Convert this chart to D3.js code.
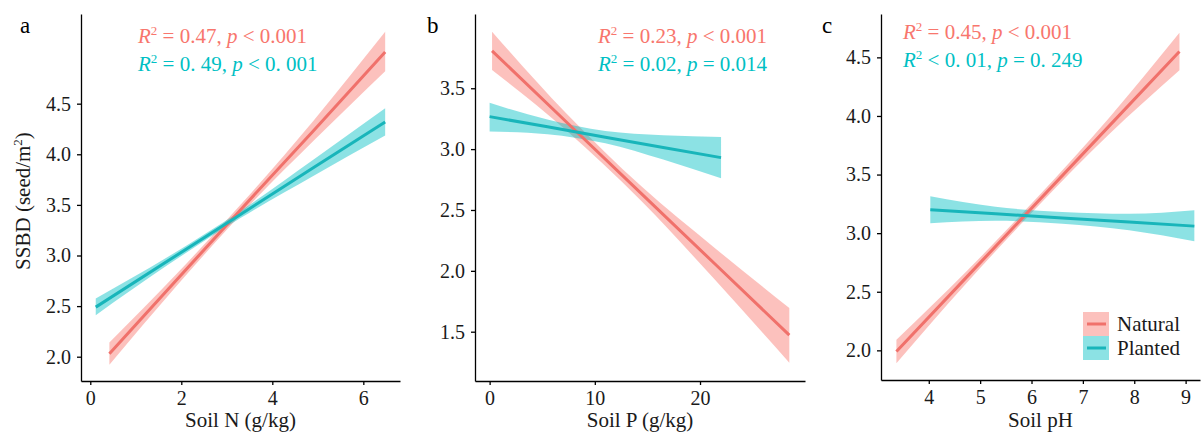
<!doctype html>
<html lang="en">
<head>
<meta charset="utf-8">
<title>SSBD vs soil</title>
<script src="https://d3js.org/d3.v7.min.js"></script>
<style>
    body { margin: 0; background-color: white; }
    svg text { font-family: "Liberation Serif", "Times New Roman", serif; }
    .axis path, .axis line { stroke: black; stroke-width: 1.3; }
    .axis text { font-size: 20px; fill: #1a1a1a; }
</style>
</head>
<body>
<div id="graph"></div>
<script>
// panel a: Soil N (g/kg)
var aNatX   = [0.42, 1.9, 3.4, 4.9, 6.48];
var aNatFit = [2.03, 2.76, 3.50, 4.23, 5.01];
var aNatLo  = [1.92, 2.70, 3.45, 4.13, 4.82];
var aNatHi  = [2.14, 2.82, 3.55, 4.33, 5.21];
var aPlaX   = [0.12, 1.7, 3.3, 4.9, 6.48];
var aPlaFit = [2.49, 2.945, 3.405, 3.866, 4.32];
var aPlaLo  = [2.41, 2.905, 3.37, 3.786, 4.185];
var aPlaHi  = [2.575, 2.985, 3.44, 3.946, 4.455];

// panel b: Soil P (g/kg)
var bNatX   = [0.23, 7.3, 14.4, 21.4, 28.49];
var bNatFit = [3.807, 3.223, 2.636, 2.058, 1.472];
var bNatLo  = [3.65, 3.153, 2.576, 1.928, 1.245];
var bNatHi  = [3.965, 3.293, 2.696, 2.188, 1.695];
var bPlaX   = [0, 5.5, 11, 16.5, 22];
var bPlaFit = [3.267, 3.183, 3.098, 3.014, 2.93];
var bPlaLo  = [3.145, 3.123, 3.048, 2.914, 2.76];
var bPlaHi  = [3.38, 3.243, 3.148, 3.114, 3.10];

// panel c: Soil pH
var cNatX   = [3.37, 4.75, 6.12, 7.5, 8.88];
var cNatFit = [1.99, 2.631, 3.268, 3.909, 4.55];
var cNatLo  = [1.89, 2.581, 3.228, 3.839, 4.39];
var cNatHi  = [2.09, 2.681, 3.308, 3.979, 4.71];
var cPlaX   = [4.03, 5.3, 6.6, 7.9, 9.17];
var cPlaFit = [3.20, 3.165, 3.13, 3.095, 3.06];
var cPlaLo  = [3.085, 3.105, 3.08, 3.025, 2.93];
var cPlaHi  = [3.315, 3.225, 3.18, 3.165, 3.195];

// tick values
var aXTicks = [0, 2, 4, 6];
var aYTicks = [2.0, 2.5, 3.0, 3.5, 4.0, 4.5];
var bXTicks = [0, 10, 20];
var bYTicks = [1.5, 2.0, 2.5, 3.0, 3.5];
var cXTicks = [4, 5, 6, 7, 8, 9];
var cYTicks = [2.0, 2.5, 3.0, 3.5, 4.0, 4.5];

// labels
var panelTags = ["a", "b", "c"];
var xTitles = ["Soil N (g/kg)", "Soil P (g/kg)", "Soil pH"];
var groups = ["Natural", "Planted"];
// text after "R2" and after "p" for Natural / Planted
var aStats = [[" = 0.47, ", " < 0.001"], [" = 0. 49, ", " < 0. 001"]];
var bStats = [[" = 0.23, ", " < 0.001"], [" = 0.02, ", " = 0.014"]];
var cStats = [[" = 0.45, ", " < 0.001"], [" < 0. 01, ", " = 0. 249"]];

var lineColors = ["#F0716B", "#18B5BA"];
var fillColors = ["#F8766D", "#00BFC4"];

function series(xs, fit, lo, hi) {
    return xs.map(function(x, i) { return { x: x, fit: fit[i], lo: lo[i], hi: hi[i] }; });
}

var panels = [
    { left: 81, right: 400, top: 14, bottom: 381, xDom: [-0.204, 6.806], yDom: [1.76, 5.386],
      xTicks: aXTicks, yTicks: aYTicks, stats: aStats, statX: 138, statY: 43,
      data: [series(aNatX, aNatFit, aNatLo, aNatHi), series(aPlaX, aPlaFit, aPlaLo, aPlaHi)] },
    { left: 475, right: 805, top: 14, bottom: 381, xDom: [-1.39, 29.98], yDom: [1.095, 4.11],
      xTicks: bXTicks, yTicks: bYTicks, stats: bStats, statX: 598, statY: 43,
      data: [series(bNatX, bNatFit, bNatLo, bNatHi), series(bPlaX, bPlaFit, bPlaLo, bPlaHi)] },
    { left: 881, right: 1200, top: 14, bottom: 380, xDom: [3.07, 9.28], yDom: [1.747, 4.87],
      xTicks: cXTicks, yTicks: cYTicks, stats: cStats, statX: 903, statY: 39,
      data: [series(cNatX, cNatFit, cNatLo, cNatHi), series(cPlaX, cPlaFit, cPlaLo, cPlaHi)] }
];

var svg = d3.select("#graph").append("svg")
    .attr("width", 1201)
    .attr("height", 439);

var tagX = [20, 427, 822];

panels.forEach(function(p, k) {
    var x = d3.scaleLinear().domain(p.xDom).range([p.left, p.right]);
    var y = d3.scaleLinear().domain(p.yDom).range([p.bottom, p.top]);
    var g = svg.append("g");

    p.data.forEach(function(d, s) {
        var area = d3.area()
            .x(function(v) { return x(v.x); })
            .y0(function(v) { return y(v.lo); })
            .y1(function(v) { return y(v.hi); })
            .curve(d3.curveMonotoneX);
        g.append("path")
            .attr("d", area(d))
            .attr("fill", fillColors[s])
            .attr("fill-opacity", 0.45);
    });
    p.data.forEach(function(d, s) {
        var line = d3.line()
            .x(function(v) { return x(v.x); })
            .y(function(v) { return y(v.fit); });
        g.append("path")
            .attr("d", line(d))
            .attr("fill", "none")
            .attr("stroke", lineColors[s])
            .attr("stroke-width", 3);
    });

    g.append("g")
        .attr("class", "axis")
        .attr("transform", "translate(0," + p.bottom + ")")
        .call(d3.axisBottom(x).tickValues(p.xTicks).tickFormat(d3.format("d")).tickSize(4).tickSizeOuter(0).tickPadding(6));
    g.append("g")
        .attr("class", "axis")
        .attr("transform", "translate(" + p.left + ",0)")
        .call(d3.axisLeft(y).tickValues(p.yTicks).tickFormat(d3.format(".1f")).tickSize(4).tickSizeOuter(0).tickPadding(6));

    g.append("text")
        .attr("x", (p.left + p.right) / 2)
        .attr("y", 427)
        .attr("text-anchor", "middle")
        .attr("font-size", 21)
        .attr("fill", "#1a1a1a")
        .text(xTitles[k]);

    g.append("text")
        .attr("x", tagX[k])
        .attr("y", 33)
        .attr("font-size", 23)
        .attr("fill", "black")
        .text(panelTags[k]);

    p.stats.forEach(function(st, s) {
        var t = g.append("text")
            .attr("x", p.statX)
            .attr("y", p.statY + s * 28)
            .attr("font-size", 21)
            .attr("fill", fillColors[s]);
        t.append("tspan").attr("font-style", "italic").text("R");
        t.append("tspan").attr("font-size", 13).attr("dy", -8).text("2");
        t.append("tspan").attr("dy", 8).text(st[0]);
        t.append("tspan").attr("font-style", "italic").text("p");
        t.append("tspan").text(st[1]);
    });
});

// y axis title
var yTitle = svg.append("text")
    .attr("transform", "translate(30,201) rotate(-90)")
    .attr("text-anchor", "middle")
    .attr("font-size", 21)
    .attr("fill", "#1a1a1a");
yTitle.append("tspan").text("SSBD (seed/m");
yTitle.append("tspan").attr("font-size", 13).attr("dy", -8).text("2");
yTitle.append("tspan").attr("dy", 8).text(")");

// legend
var legend = svg.append("g").attr("transform", "translate(1083,312)");
groups.forEach(function(name, s) {
    var row = legend.append("g").attr("transform", "translate(0," + (s * 24) + ")");
    row.append("rect")
        .attr("width", 26)
        .attr("height", 24)
        .attr("fill", fillColors[s])
        .attr("fill-opacity", 0.45);
    row.append("line")
        .attr("x1", 4).attr("x2", 23)
        .attr("y1", 12).attr("y2", 12)
        .attr("stroke", lineColors[s])
        .attr("stroke-width", 3);
    row.append("text")
        .attr("x", 34)
        .attr("y", 19)
        .attr("font-size", 21)
        .attr("fill", "#1a1a1a")
        .text(name);
});
</script>
</body>
</html>
